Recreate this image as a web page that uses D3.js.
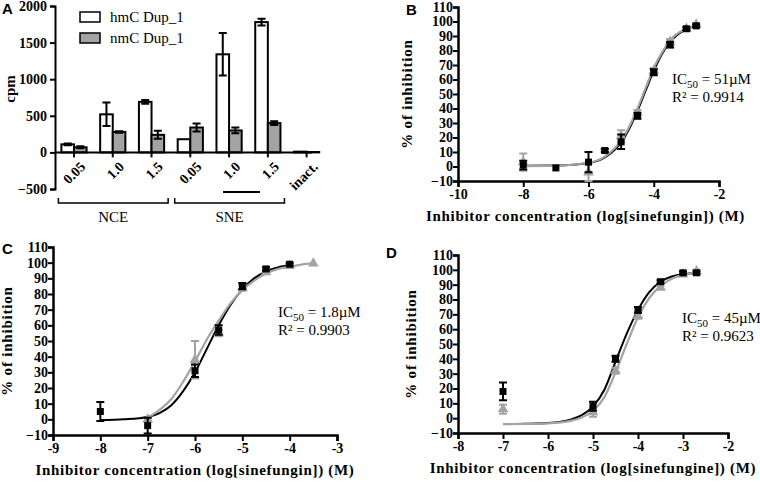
<!DOCTYPE html>
<html>
<head>
<meta charset="utf-8">
<script src="https://cdn.jsdelivr.net/npm/d3@7"></script>
<style>
body{margin:0;background:#fff;}
</style>
</head>
<body>
<svg id="chart" width="760" height="482"></svg>
<script>
// panel A data
var groups = ["0.05", "1.0", "1.5", "0.05 ", "1.0 ", "1.5 ", "inact."];
var hmcVals = [110, 520, 690, 180, 1340, 1780, 10];
var hmcErr = [12, 160, 25, 0, 290, 45, 0];
var nmcVals = [70, 280, 240, 340, 300, 400, 5];
var nmcErr = [15, 10, 55, 55, 40, 25, 0];
var aTicks = [-500, 0, 500, 1000, 1500, 2000];

// panel B data
var bBlack = [[-8,1],[-7,-1],[-6,3],[-5.5,11],[-5,17],[-4.5,35],[-4,65],[-3.5,84],[-3,95],[-2.7,97]];
var bBlackErr = [3,0,7,1,5,2,2,2,1,1];
var bGray = [[-8,3],[-6,-4],[-5,21],[-4.5,37],[-4,66],[-3.5,86],[-3,95],[-2.7,98]];
var bGrayErr = [6,6,4,2,2,2,1,1];
var bBlackFit = [[-8,0.5],[-7,0.7],[-6,2.4],[-5.5,6.2],[-5,16.6],[-4.75,26],[-4.5,38.3],[-4.25,52.3],[-4,65.9],[-3.75,77.4],[-3.5,85.7],[-3,94.7],[-2.7,97]];
var bGrayFit = [[-8,0.3],[-7,0.6],[-6,2.6],[-5.5,6.8],[-5,18],[-4.75,27.5],[-4.5,40],[-4.25,54],[-4,68],[-3.75,78.5],[-3.5,87],[-3,95],[-2.7,97.3]];

// panel C data
var cBlack = [[-8,5],[-7,-4],[-6,31],[-5.5,57],[-5,85],[-4.5,96],[-4,99]];
var cBlackErr = [6,5,4,3,2,1,1];
var cGray = [[-7,0],[-6,38],[-5.5,55],[-5,84],[-4.5,94],[-4,98],[-3.5,99.5]];
var cGrayErr = [1,12,2,2,1,1,0];
var cBlackFit = [[-8,-0.5],[-7.5,0],[-7,1.5],[-6.75,4],[-6.5,9],[-6.25,18],[-6,30],[-5.75,45],[-5.5,60],[-5.25,73],[-5,83],[-4.75,90],[-4.5,94.5],[-4.25,97],[-4,98.5]];
var cGrayFit = [[-7,1],[-6.75,6],[-6.5,13],[-6.25,24],[-6,37],[-5.75,51],[-5.5,63],[-5.25,74],[-5,82.5],[-4.75,88.5],[-4.5,93],[-4.25,96],[-4,97.5],[-3.75,98.8],[-3.5,99.5]];

// panel D data
var dBlack = [[-7,18],[-5,8],[-4.5,40],[-4,73],[-3.5,92],[-3,98],[-2.7,98]];
var dBlackErr = [6,3,2,2,1,1,1];
var dGray = [[-7,6],[-5,4],[-4.5,32],[-4,69],[-3.5,88],[-3,97],[-2.7,99]];
var dGrayErr = [3,3,2,2,1,1,1];
var dBlackFit = [[-7,-4],[-6.5,-3.8],[-6,-3.3],[-5.5,-1],[-5.25,2],[-5,8],[-4.75,19],[-4.5,38],[-4.25,57],[-4,73],[-3.75,85],[-3.5,92],[-3.25,95.5],[-3,97],[-2.7,98]];
var dGrayFit = [[-7,-4],[-6.5,-3.9],[-6,-3.5],[-5.5,-1.8],[-5.25,0.5],[-5,5],[-4.75,14],[-4.5,31],[-4.25,50],[-4,68],[-3.75,81],[-3.5,89],[-3.25,94],[-3,96.5],[-2.7,98]];

var pctTicks = d3.range(-10, 111, 10);
var grayCol = "#a3a3a3";
var serif = "'Liberation Serif', 'Times New Roman', Times, serif";
var sans = "'Liberation Sans', Arial, Helvetica, sans-serif";

var svg = d3.select("#chart");

// bold serif tick labels
function styleTicks(s){
	s.attr("font-family", null).attr("font-size", null);
	s.selectAll(".tick text").attr("font-family", serif).attr("font-weight", "bold").attr("font-size", 14).attr("fill", "#000");
}

function errPath(cx, t, b){
	return "M" + (cx-4) + "," + t + "H" + (cx+4) + "M" + cx + "," + t + "V" + b + "M" + (cx-4) + "," + b + "H" + (cx+4);
}

// ---------- panel A ----------
function drawA(){
	var g = svg.append("g");
	var y = d3.scaleLinear().domain([-500, 2000]).range([189, 6]);
	var x = d3.scaleBand().domain(groups).range([54.6, 326]).paddingInner(0.35).paddingOuter(0.175);
	var sub = d3.scaleBand().domain(["h","n"]).range([0, x.bandwidth()]);

	g.append("g").attr("transform", "translate(55,0)")
		.call(d3.axisLeft(y).tickValues(aTicks).tickSize(5).tickFormat(d3.format("d")))
		.call(styleTicks)
		.call(s => s.select(".domain").attr("stroke-width", 2))
		.call(s => s.selectAll(".tick line").attr("stroke-width", 2));

	var series = [["h", hmcVals, hmcErr, "#fff"], ["n", nmcVals, nmcErr, grayCol]];
	series.forEach(function(s){
		g.selectAll(null).data(groups).enter().append("rect")
			.attr("x", d => x(d) + sub(s[0]))
			.attr("width", sub.bandwidth())
			.attr("y", (d, i) => y(s[1][i]))
			.attr("height", (d, i) => y(0) - y(s[1][i]))
			.attr("fill", s[3]).attr("stroke", "#000").attr("stroke-width", 2);
		g.selectAll(null).data(groups).enter().filter((d, i) => s[2][i] > 0).append("path")
			.attr("d", function(d){
				var i = groups.indexOf(d);
				var cx = x(d) + sub(s[0]) + sub.bandwidth() / 2;
				return errPath(cx, y(s[1][i] + s[2][i]), y(s[1][i] - s[2][i]));
			})
			.attr("stroke", "#000").attr("stroke-width", 2).attr("fill", "none");
	});

	// x axis at zero
	var xa = g.append("g").attr("transform", "translate(0," + y(0) + ")");
	xa.append("line").attr("x1", 55).attr("x2", 312).attr("stroke", "#000").attr("stroke-width", 2);
	groups.forEach(function(d){
		var cx = x(d) + x.bandwidth() / 2;
		xa.append("line").attr("x1", cx).attr("x2", cx).attr("y1", 0).attr("y2", 5).attr("stroke", "#000").attr("stroke-width", 2);
		xa.append("text").attr("transform", "translate(" + (cx + 5) + ",8) rotate(-45)")
			.attr("text-anchor", "end").attr("dy", "0.72em")
			.attr("font-family", serif).attr("font-weight", "bold").attr("font-size", 14).text(d.trim());
	});

	// group brackets
	[["NCE", 0, 2], ["SNE", 3, 5]].forEach(function(b){
		var x0 = x(groups[b[1]]) - 3, x1 = x(groups[b[2]]) + x.bandwidth() + 4;
		g.append("path").attr("d", "M" + x0 + ",198V203H" + x1 + "V198")
			.attr("stroke", "#000").attr("stroke-width", 1.5).attr("fill", "none");
		g.append("text").attr("x", (x0 + x1) / 2).attr("y", 222).attr("text-anchor", "middle")
			.attr("font-family", serif).attr("font-size", 15).text(b[0]);
	});
	g.append("line").attr("x1", 223).attr("x2", 260).attr("y1", 192).attr("y2", 192)
		.attr("stroke", "#000").attr("stroke-width", 2);

	// legend
	[["hmC Dup_1", "#fff"], ["nmC Dup_1", grayCol]].forEach(function(l, i){
		g.append("rect").attr("x", 80).attr("y", 12 + i * 21).attr("width", 20).attr("height", 10)
			.attr("fill", l[1]).attr("stroke", "#000").attr("stroke-width", 1.5);
		g.append("text").attr("x", 110).attr("y", 22 + i * 21).attr("font-family", serif).attr("font-size", 15).text(l[0]);
	});

	g.append("text").attr("transform", "translate(15,89) rotate(-90)").attr("text-anchor", "middle")
		.attr("font-family", serif).attr("font-weight", "bold").attr("font-size", 15).text("cpm");
	g.append("text").attr("x", 2).attr("y", 14).attr("font-family", sans).attr("font-weight", "bold").attr("font-size", 15).text("A");
}

// ---------- dose-response panels ----------
function drawCurve(o){
	var g = svg.append("g");
	var x = d3.scaleLinear().domain(o.xdom).range([o.left, o.right]);
	var y = d3.scaleLinear().domain([-10, 110]).range([o.bottom, o.top]);

	g.append("g").attr("transform", "translate(" + o.left + ",0)")
		.call(d3.axisLeft(y).tickValues(pctTicks).tickSize(5))
		.call(styleTicks)
		.call(s => s.select(".domain").attr("stroke-width", 2.5))
		.call(s => s.selectAll(".tick line").attr("stroke-width", 2))
		.call(s => s.selectAll(".tick text").attr("x", -5));
	g.append("g").attr("transform", "translate(0," + o.bottom + ")")
		.call(d3.axisBottom(x).tickValues(d3.range(o.xdom[0], o.xdom[1] + 1, o.xstep)).tickSize(6))
		.call(styleTicks)
		.call(s => s.select(".domain").attr("stroke-width", 2.5))
		.call(s => s.selectAll(".tick line").attr("stroke-width", 2))
		.call(s => s.selectAll(".tick text").attr("y", 8).text(d => d.toString()));

	var line = d3.line().x(d => x(d[0])).y(d => y(d[1])).curve(d3.curveMonotoneX);
	g.append("path").datum(o.blackFit).attr("d", line).attr("fill", "none").attr("stroke", "#000").attr("stroke-width", 2);
	g.append("path").datum(o.grayFit).attr("d", line).attr("fill", "none").attr("stroke", grayCol).attr("stroke-width", 2.2);

	function errBars(pts, errs, col){
		g.selectAll(null).data(pts).enter().filter((d, i) => errs[i] > 0).append("path")
			.attr("d", function(d){
				var e = errs[pts.indexOf(d)];
				return errPath(x(d[0]), y(d[1] + e), y(d[1] - e));
			})
			.attr("stroke", col).attr("stroke-width", 2).attr("fill", "none");
	}
	errBars(o.gray, o.grayErr, grayCol);
	g.selectAll(null).data(o.gray).enter().append("path")
		.attr("transform", d => "translate(" + x(d[0]) + "," + y(d[1]) + ")")
		.attr("d", d3.symbol(d3.symbolTriangle, 50)).attr("fill", grayCol);
	errBars(o.black, o.blackErr, "#000");
	g.selectAll(null).data(o.black).enter().append("rect")
		.attr("x", d => x(d[0]) - 3.5).attr("y", d => y(d[1]) - 3.5)
		.attr("width", 7).attr("height", 7).attr("fill", "#000");

	g.append("text").attr("transform", "translate(" + o.ytx + "," + ((o.top + o.bottom) / 2) + ") rotate(-90)")
		.attr("text-anchor", "middle").attr("font-family", serif).attr("font-weight", "bold").attr("font-size", 15)
		.attr("letter-spacing", 0.8).text("% of inhibition");
	g.append("text").attr("x", (o.left + o.right) / 2 + o.xtdx).attr("y", o.xty).attr("text-anchor", "middle")
		.attr("font-family", serif).attr("font-weight", "bold").attr("font-size", 15).attr("letter-spacing", 0.7).text(o.xtitle);

	var ic = g.append("text").attr("x", o.lx).attr("y", o.ly).attr("font-family", serif).attr("font-size", 15);
	ic.append("tspan").text("IC");
	ic.append("tspan").attr("dy", 4).attr("font-size", 11).text("50");
	ic.append("tspan").attr("dy", -4).text(" = " + o.ic50);
	g.append("text").attr("x", o.lx).attr("y", o.ly + 18).attr("font-family", serif).attr("font-size", 15).text("R\u00b2 = " + o.r2);

	g.append("text").attr("x", o.px).attr("y", o.py).attr("font-family", sans).attr("font-weight", "bold").attr("font-size", 15).text(o.label);
}

drawA();
drawCurve({label: "B", px: 406, py: 15, xdom: [-10, -2], xstep: 2, left: 458, right: 719, top: 7, bottom: 181,
	black: bBlack, blackErr: bBlackErr, gray: bGray, grayErr: bGrayErr, blackFit: bBlackFit, grayFit: bGrayFit,
	ytx: 412, xty: 221, xtdx: -3, xtitle: "Inhibitor concentration (log[sinefungin]) (M)",
	lx: 672, ly: 84, ic50: "51\u00b5M", r2: "0.9914"});
drawCurve({label: "C", px: 2, py: 254, xdom: [-9, -3], xstep: 1, left: 53, right: 337, top: 247, bottom: 435,
	black: cBlack, blackErr: cBlackErr, gray: cGray, grayErr: cGrayErr, blackFit: cBlackFit, grayFit: cGrayFit,
	ytx: 12, xty: 475, xtdx: 0, xtitle: "Inhibitor concentration (log[sinefungin]) (M)",
	lx: 278, ly: 317, ic50: "1.8\u00b5M", r2: "0.9903"});
drawCurve({label: "D", px: 386, py: 258, xdom: [-8, -2], xstep: 1, left: 458, right: 728, top: 255, bottom: 433,
	black: dBlack, blackErr: dBlackErr, gray: dGray, grayErr: dGrayErr, blackFit: dBlackFit, grayFit: dGrayFit,
	ytx: 416, xty: 473, xtdx: 0, xtitle: "Inhibitor concentration (log[sinefungine]) (M)",
	lx: 682, ly: 323, ic50: "45\u00b5M", r2: "0.9623"});
</script>
</body>
</html>
